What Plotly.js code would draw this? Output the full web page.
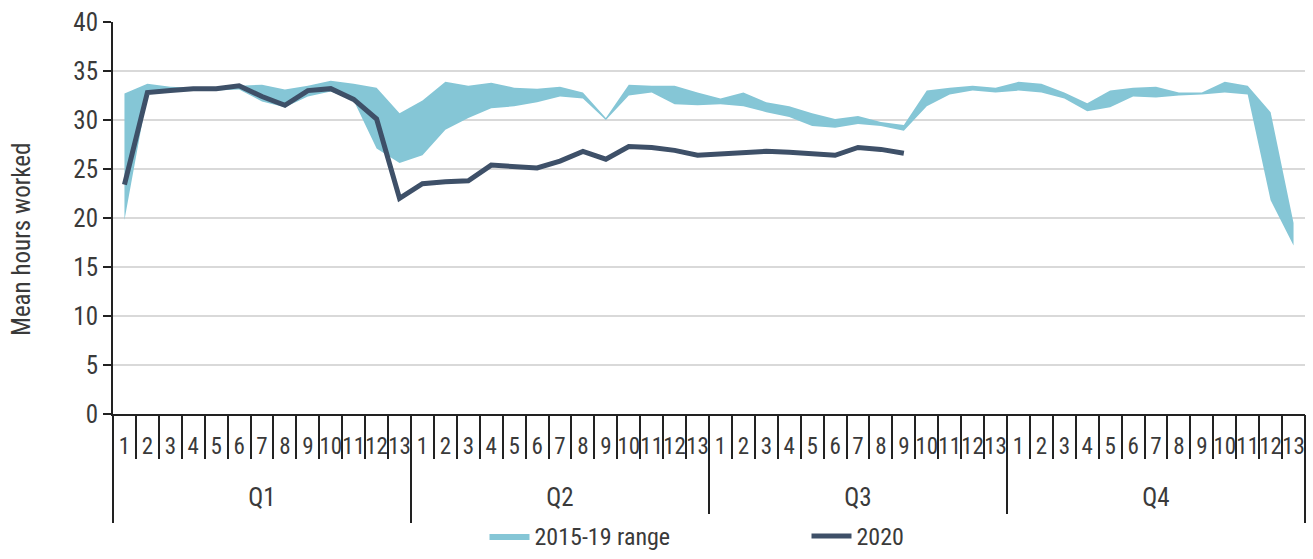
<!DOCTYPE html>
<html>
<head>
<meta charset="utf-8">
<script src="https://cdn.plot.ly/plotly-3.0.1.min.js"></script>
<style>
  html, body { margin: 0; padding: 0; background: #fff; }
  #chart { width: 1313px; height: 559px; }
</style>
</head>
<body>
<div id="chart"></div>
<script>
const quarters = ['Q1', 'Q2', 'Q3', 'Q4'];
const weeks = ['1','2','3','4','5','6','7','8','9','10','11','12','13'];
const yTitle = 'Mean hours worked';

// 2015-19 range: upper bound (max) per week, Q1..Q4
const rangeMax = [
  32.7, 33.7, 33.4, 33.3, 33.2, 33.5, 33.6, 33.1, 33.5, 34.0, 33.7, 33.3, 30.7,
  32.0, 33.9, 33.5, 33.8, 33.3, 33.2, 33.4, 32.8, 30.2, 33.6, 33.5, 33.5, 32.8,
  32.2, 32.8, 31.8, 31.4, 30.7, 30.1, 30.4, 29.8, 29.5, 33.0, 33.3, 33.5, 33.3,
  33.9, 33.7, 32.8, 31.7, 33.0, 33.3, 33.4, 32.8, 32.8, 33.9, 33.5, 30.8, 19.5
];
// 2015-19 range: lower bound (min) per week
const rangeMin = [
  19.8, 32.6, 32.9, 33.0, 33.0, 33.1, 31.9, 31.3, 32.4, 32.9, 32.0, 27.1, 25.6,
  26.4, 29.0, 30.2, 31.2, 31.4, 31.8, 32.4, 32.2, 30.0, 32.5, 32.8, 31.6, 31.5,
  31.6, 31.4, 30.8, 30.3, 29.4, 29.2, 29.6, 29.4, 28.9, 31.4, 32.6, 33.0, 32.8,
  33.0, 32.8, 32.2, 30.9, 31.3, 32.4, 32.3, 32.5, 32.6, 32.8, 32.6, 21.8, 17.2
];
// 2020 mean hours worked (Q1 wk1 .. Q3 wk9)
const hours2020 = [
  23.4, 32.8, 33.0, 33.2, 33.2, 33.5, 32.4, 31.5, 33.0, 33.2, 32.1, 30.1, 22.0,
  23.5, 23.7, 23.8, 25.4, 25.2, 25.1, 25.8, 26.8, 26.0, 27.3, 27.2, 26.9, 26.4,
  26.5, 26.6, 26.8, 26.7, 26.5, 26.4, 27.2, 27.0, 26.6
];

const nW = weeks.length;
const allIdx = [];
const weekText = [];
quarters.forEach((q, qi) => weeks.forEach((w, wi) => { allIdx.push(qi * nW + wi); weekText.push(w); }));
const weekBounds = [];
for (let i = 0; i <= allIdx.length; i++) weekBounds.push(i - 0.5);
const quarterBounds = [];
for (let i = 0; i <= quarters.length; i++) quarterBounds.push(i * nW - 0.5);
const quarterCenters = quarters.map((q, i) => i * nW + (nW - 1) / 2);

const FONT = '"Liberation Sans Narrow", "Roboto Condensed", "Arial Narrow", Roboto, sans-serif';
const TXT = '#3a3a3a';
const FS = 25;
const xRange = [-0.5, allIdx.length - 0.5];

// helper (empty) traces so the overlaid axis scaffolding (tick dividers, quarter labels) is drawn
const axisHolder = (xa) => ({
  x: [null], y: [null], xaxis: xa, yaxis: 'y', type: 'scatter', mode: 'lines',
  showlegend: false, hoverinfo: 'skip'
});

const traces = [
  {
    x: allIdx, y: rangeMin, type: 'scatter', mode: 'lines',
    line: { width: 0, color: '#85c6d6' }, showlegend: false, hoverinfo: 'skip'
  },
  {
    x: allIdx, y: rangeMax, type: 'scatter', mode: 'lines', name: '2015-19 range',
    fill: 'tonexty', fillcolor: '#85c6d6', line: { width: 0, color: '#85c6d6' }
  },
  {
    x: allIdx.slice(0, hours2020.length), y: hours2020, type: 'scatter', mode: 'lines',
    name: '2020', line: { color: '#3e5068', width: 5 }
  },
  axisHolder('x2'), axisHolder('x3'), axisHolder('x4')
];

const baseX = { range: xRange, showgrid: false, zeroline: false, fixedrange: true, autorange: false };

const layout = {
  width: 1313, height: 559,
  margin: { l: 113, r: 8, t: 22, b: 145, autoexpand: false },
  paper_bgcolor: '#ffffff', plot_bgcolor: '#ffffff',
  font: { family: FONT, size: FS, color: TXT },
  showlegend: true,
  legend: {
    orientation: 'h', x: 0.369, xanchor: 'left', xref: 'container',
    y: 0.0, yanchor: 'bottom', yref: 'container',
    font: { size: 24, color: TXT }, traceorder: 'normal', itemwidth: 40,
    entrywidth: 267
  },
  annotations: [{
    text: yTitle, xref: 'paper', yref: 'paper', x: -0.0763, y: 0.444,
    xanchor: 'center', yanchor: 'middle', textangle: -90, showarrow: false,
    font: { size: 25, color: TXT }
  }],
  xaxis: Object.assign({}, baseX, {
    tickmode: 'array', tickvals: allIdx, ticktext: weekText, ticks: '', tickangle: 0,
    showline: true, linecolor: '#222', linewidth: 2,
    tickfont: { size: 23, color: TXT }, ticklabelstandoff: 10
  }),
  xaxis2: Object.assign({}, baseX, {
    overlaying: 'x', anchor: 'y', side: 'bottom',
    tickmode: 'array', tickvals: weekBounds, ticks: 'outside', ticklen: 44,
    tickwidth: 2, tickcolor: '#222', showticklabels: false, showline: false
  }),
  xaxis3: Object.assign({}, baseX, {
    overlaying: 'x', anchor: 'y', side: 'bottom',
    tickmode: 'array', tickvals: quarterBounds, ticks: 'outside', ticklen: 108,
    tickwidth: 2, tickcolor: '#222', showticklabels: false, showline: false
  }),
  xaxis4: Object.assign({}, baseX, {
    overlaying: 'x', anchor: 'y', side: 'bottom',
    tickmode: 'array', tickvals: quarterCenters, ticktext: quarters, ticks: '', tickangle: 0,
    showline: false, tickfont: { size: FS, color: TXT }, ticklabelstandoff: 66
  }),
  yaxis: {
    range: [0, 40], dtick: 5, tick0: 0, fixedrange: true, autorange: false,
    showgrid: true, gridcolor: '#d9d9d9', gridwidth: 2, zeroline: false,
    showline: true, linecolor: '#222', linewidth: 2,
    ticks: 'outside', ticklen: 8, tickwidth: 2, tickcolor: '#222',
    tickfont: { size: FS, color: TXT }
  }
};

Plotly.newPlot('chart', traces, layout, { displayModeBar: false, staticPlot: true });
</script>
</body>
</html>
